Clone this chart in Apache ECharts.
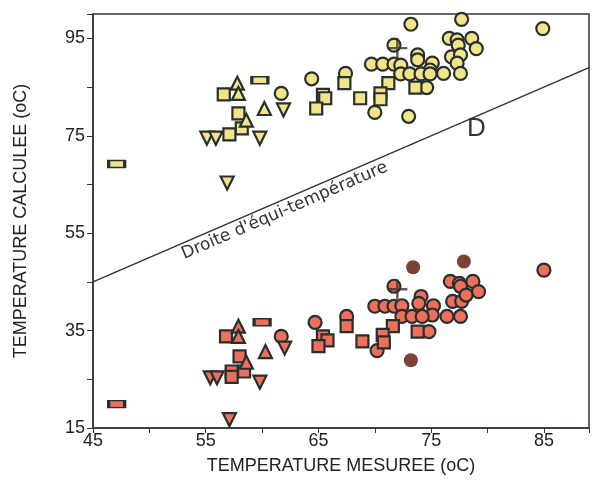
<!DOCTYPE html>
<html>
<head>
<meta charset="utf-8">
<script src="https://cdn.jsdelivr.net/npm/echarts@6/dist/echarts.min.js"></script>
<style>
  html, body { margin: 0; padding: 0; background: #fff; }
  #chart { width: 592px; height: 480px; }
</style>
</head>
<body>
<div id="chart"></div>
<script>
// temperature mesuree (x) / calculee (y), upper group = yellow, lower group = red
const yellowCircles = [
  [73.2, 97.9], [77.7, 98.9], [84.9, 97.0],
  [76.6, 95.0], [77.3, 94.7], [78.6, 95.0], [77.4, 93.6], [79.0, 92.9],
  [76.8, 91.2], [77.6, 91.6], [77.3, 89.9], [76.1, 87.8], [77.6, 87.8],
  [73.8, 91.6], [73.8, 90.6], [75.1, 89.9], [74.9, 88.5],
  [69.7, 89.7], [70.7, 89.7], [71.7, 89.7], [72.3, 89.5],
  [72.3, 87.7], [73.1, 87.7], [74.1, 87.7], [74.9, 87.7],
  [64.4, 86.7], [67.4, 87.8], [74.6, 84.9], [70.0, 79.8], [73.0, 79.0],
  [61.7, 83.7], [71.7, 93.6]
]
const yellowSquares = [
  [67.3, 85.8], [71.2, 85.8], [73.6, 84.9], [65.4, 83.4], [65.6, 82.7],
  [68.7, 82.7], [70.5, 83.7], [70.5, 82.5], [64.8, 80.6],
  [56.6, 83.5], [57.9, 79.6], [58.2, 76.5], [57.1, 75.3]
]
const yellowTriUp = [[57.8, 85.8], [57.9, 83.7], [60.2, 80.6], [58.6, 78.2]]
const yellowTriDown = [[61.9, 80.3], [55.1, 74.5], [55.9, 74.5], [59.8, 74.5], [56.9, 65.3]]
const yellowBars = [[59.8, 86.4], [47.1, 69.2]]
const yellowCross = [[72.0, 93.0]]

const redCircles = [
  [76.7, 45.1], [77.5, 44.7], [78.7, 45.1], [77.6, 44.1], [79.2, 43.0],
  [76.9, 41.0], [77.7, 41.0], [78.1, 42.3],
  [74.1, 42.0], [73.9, 40.6], [75.2, 40.1], [75.1, 38.2],
  [70.0, 40.0], [70.9, 40.0], [71.7, 40.0], [72.4, 40.1],
  [72.4, 37.9], [73.3, 37.9], [74.2, 37.9], [76.4, 37.9], [77.6, 37.9],
  [64.7, 36.7], [67.5, 37.9], [74.8, 34.8], [70.2, 30.9], [61.7, 33.8],
  [85.0, 47.4], [71.7, 44.1]
]
const redSquares = [
  [67.5, 35.9], [71.6, 35.9], [73.8, 34.8], [65.4, 33.8], [65.8, 33.0],
  [65.0, 31.8], [68.9, 32.8], [70.7, 34.1], [70.8, 32.6],
  [56.8, 33.8], [58.0, 29.7], [58.4, 26.6], [57.3, 26.6], [57.3, 25.5]
]
const redTriUp = [[57.9, 35.9], [57.9, 33.8], [60.3, 30.7], [58.6, 28.5]]
const redTriDown = [[62.0, 31.4], [55.4, 25.3], [56.0, 25.3], [59.8, 24.4], [57.1, 16.7]]
const redBars = [[60.0, 36.7], [47.1, 19.9]]
const redCross = [[72.0, 43.5]]
const brownDots = [[73.4, 48.0], [77.9, 49.2], [73.2, 28.9]]

const equiLine = [[45, 45], [89, 89]]

const YELLOW = '#f2e488'
const RED = '#ee6f5c'
const BROWN = '#7c4334'
const BORDER = '#27302c'
const font = 'Liberation Sans, DejaVu Sans, sans-serif'

const chartDom = document.getElementById('chart')
const myChart = echarts.init(chartDom)

function pts(name, data, color, symbol, size, extra) {
  return Object.assign({
    name: name,
    type: 'scatter',
    data: data,
    symbol: symbol,
    symbolSize: size,
    z: 3,
    itemStyle: { color: color, borderColor: BORDER, borderWidth: 2.2, opacity: 1 },
    emphasis: { disabled: true }
  }, extra || {})
}

const crossPath = 'path://M4.4,0h1.2v10h-1.2zM0,4.4h10v1.2h-10z'

const option = {
  animation: false,
  backgroundColor: '#fff',
  grid: { left: 93, right: -3, top: 14, bottom: 50, show: true, borderColor: '#333', borderWidth: 1.5 },
  xAxis: {
    type: 'value',
    min: 45, max: 89, interval: 5,
    name: 'TEMPERATURE MESUREE (oC)',
    nameLocation: 'middle',
    nameGap: 29,
    nameTextStyle: { fontFamily: font, fontSize: 18, color: '#222' },
    splitLine: { show: false },
    axisLine: { lineStyle: { color: '#2e4a40', width: 2 } },
    axisTick: { inside: false, length: 5, lineStyle: { color: '#333' } },
    axisLabel: {
      fontFamily: font, fontSize: 18, color: '#222', margin: 4,
      formatter: v => ((v - 45) % 10 === 0 ? String(v) : '')
    }
  },
  yAxis: {
    type: 'value',
    min: 15, max: 100, interval: 10,
    name: 'TEMPERATURE CALCULEE (oC)',
    nameLocation: 'middle',
    nameGap: 63,
    nameTextStyle: { fontFamily: font, fontSize: 18, color: '#222' },
    splitLine: { show: false },
    axisLine: { lineStyle: { color: '#333', width: 1.5 } },
    axisTick: { length: 6, lineStyle: { color: '#333' } },
    axisLabel: {
      fontFamily: font, fontSize: 18, color: '#222', margin: 8,
      formatter: v => ((v - 15) % 20 === 0 ? String(v) : '')
    }
  },
  series: [
    {
      type: 'line', data: equiLine, symbol: 'none', silent: true, z: 1,
      lineStyle: { color: '#333', width: 1.5 }
    },
    pts('jaune-cercle', yellowCircles, YELLOW, 'circle', 13),
    pts('jaune-carre', yellowSquares, YELLOW, 'rect', 12),
    pts('jaune-tri', yellowTriUp, YELLOW, 'triangle', 13),
    pts('jaune-tri-inv', yellowTriDown, YELLOW, 'triangle', 13, { symbolRotate: 180 }),
    pts('jaune-barre', yellowBars, YELLOW, 'rect', [16, 7]),
    pts('jaune-croix', yellowCross, '#333', crossPath, 20, { itemStyle: { color: '#333' }, z: 4 }),
    pts('rouge-cercle', redCircles, RED, 'circle', 13),
    pts('rouge-carre', redSquares, RED, 'rect', 12),
    pts('rouge-tri', redTriUp, RED, 'triangle', 13),
    pts('rouge-tri-inv', redTriDown, RED, 'triangle', 13, { symbolRotate: 180 }),
    pts('rouge-barre', redBars, RED, 'rect', [16, 7]),
    pts('rouge-croix', redCross, '#333', crossPath, 20, { itemStyle: { color: '#333' }, z: 4 }),
    pts('brun', brownDots, BROWN, 'circle', 14, { itemStyle: { color: BROWN, borderWidth: 0, opacity: 1 } })
  ]
}
myChart.setOption(option)

// annotations placed from data coordinates
const a = myChart.convertToPixel('grid', [45, 45])
const b = myChart.convertToPixel('grid', [89, 89])
const angle = Math.atan2(a[1] - b[1], b[0] - a[0])
const lbl = myChart.convertToPixel('grid', [62.0, 59.6])
const dPos = myChart.convertToPixel('grid', [79.0, 76.5])
myChart.setOption({
  graphic: [
    {
      type: 'text', x: lbl[0], y: lbl[1], rotation: angle,
      style: {
        text: "Droite d'équi-température", fill: '#333',
        font: '17px DejaVu Sans, sans-serif', align: 'center', verticalAlign: 'middle'
      }
    },
    {
      type: 'text', x: dPos[0], y: dPos[1],
      style: {
        text: 'D', fill: '#333',
        font: '26px ' + font, align: 'center', verticalAlign: 'middle'
      }
    }
  ]
})
</script>
</body>
</html>
